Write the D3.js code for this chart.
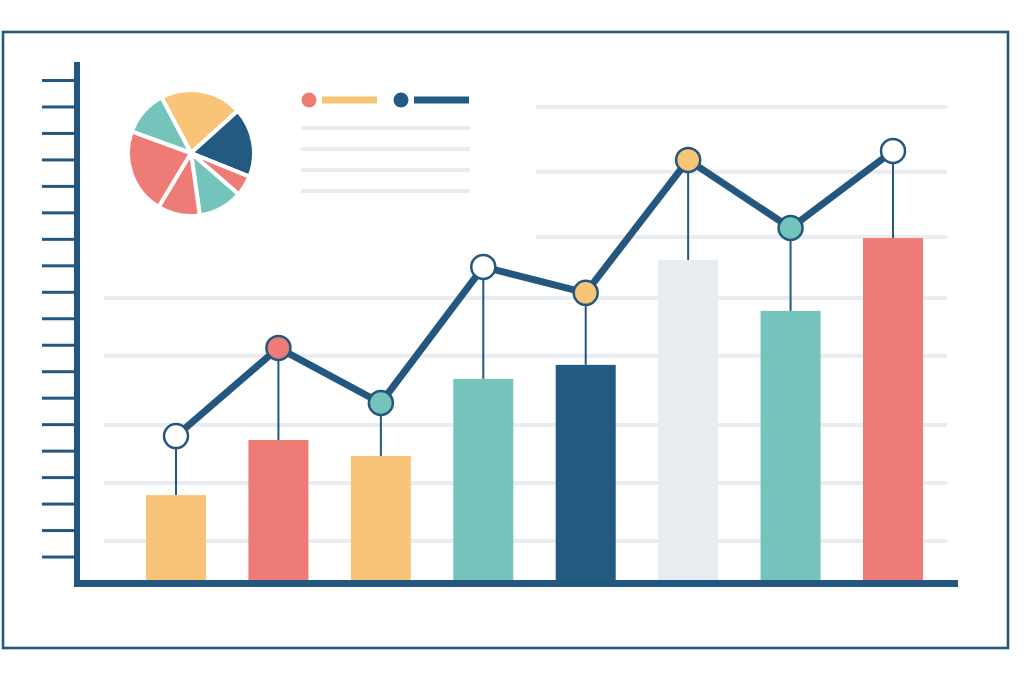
<!DOCTYPE html>
<html><head><meta charset="utf-8">
<script src="https://cdn.jsdelivr.net/npm/d3@7"></script>
<style>html,body{margin:0;padding:0;background:#fff;}svg{display:block;}</style>
</head><body>
<script>
// ---- data ----
const categories = ["A","B","C","D","E","F","G","H"];
const barValues = [3.32, 5.40, 4.80, 7.71, 8.24, 12.20, 10.28, 13.03];
const barColors = ["#F8C477","#EE7B75","#F8C477","#74C4BB","#225A82","#E8ECF0","#74C4BB","#EE7B75"];
const lineValues = [5.55, 8.88, 6.80, 11.94, 10.96, 15.98, 13.41, 16.32];
const markerColors = ["#FFFFFF","#EE7B75","#74C4BB","#FFFFFF","#F8C477","#F8C477","#74C4BB","#FFFFFF"];
const yTicks = [1,2,3,4,5,6,7,8,9,10,11,12,13,14,15,16,17,18,19];
const gridShort = [17.98, 15.53, 13.07];
const gridLong = [10.77, 8.58, 5.97, 3.78, 1.59];
const pieValues = [76, 64, 19, 41, 39, 79, 42];
const pieColors = ["#F8C477","#225A82","#EE7B75","#74C4BB","#EE7B75","#EE7B75","#74C4BB"];
const legendColors = [["#EE7B75","#F8C477"],["#225A82","#225A82"]];
const legendLines = [0,1,2,3];

const NAVY = "#235780", GRID = "#E9EDF1";
const W = 1024, H = 683;
const svg = d3.select("body").append("svg").attr("width", W).attr("height", H);

// frame
svg.append("rect").attr("x",3).attr("y",32).attr("width",1005).attr("height",616)
  .attr("fill","none").attr("stroke",NAVY).attr("stroke-width",2.6);

const y = d3.scaleLinear().domain([0,19]).range([583,80]);
const x = d3.scalePoint().domain(categories).range([176, 893]);
const barW = 60;

// gridlines
svg.append("g").selectAll("line").data(gridShort).join("line")
  .attr("x1",536).attr("x2",947).attr("y1",d=>y(d)).attr("y2",d=>y(d))
  .attr("stroke",GRID).attr("stroke-width",4);
svg.append("g").selectAll("line").data(gridLong).join("line")
  .attr("x1",104).attr("x2",947).attr("y1",d=>y(d)).attr("y2",d=>y(d))
  .attr("stroke",GRID).attr("stroke-width",4);

// y axis ticks
const yAxis = d3.axisLeft(y).tickValues(yTicks).tickSize(32).tickFormat("");
const ga = svg.append("g").attr("transform","translate(74,0)").call(yAxis);
ga.select(".domain").remove();
ga.selectAll(".tick line").attr("stroke",NAVY).attr("stroke-width",3);

// bars
svg.append("g").selectAll("rect").data(barValues).join("rect")
  .attr("x",(d,i)=>x(categories[i])-barW/2).attr("width",barW)
  .attr("y",d=>y(d)).attr("height",d=>y(0)-y(d))
  .attr("fill",(d,i)=>barColors[i]);

// axes lines
svg.append("line").attr("x1",77).attr("x2",77).attr("y1",62).attr("y2",587)
  .attr("stroke",NAVY).attr("stroke-width",6);
svg.append("line").attr("x1",74).attr("x2",958).attr("y1",583.5).attr("y2",583.5)
  .attr("stroke",NAVY).attr("stroke-width",7);

// stems
svg.append("g").selectAll("line").data(lineValues).join("line")
  .attr("x1",(d,i)=>x(categories[i])).attr("x2",(d,i)=>x(categories[i]))
  .attr("y1",d=>y(d)).attr("y2",(d,i)=>y(barValues[i]))
  .attr("stroke",NAVY).attr("stroke-width",2);

// line
const line = d3.line().x((d,i)=>x(categories[i])).y(d=>y(d));
svg.append("path").datum(lineValues).attr("d",line)
  .attr("fill","none").attr("stroke",NAVY).attr("stroke-width",7).attr("stroke-linejoin","miter");

// markers
svg.append("g").selectAll("circle").data(lineValues).join("circle")
  .attr("cx",(d,i)=>x(categories[i])).attr("cy",d=>y(d)).attr("r",12)
  .attr("fill",(d,i)=>markerColors[i]).attr("stroke",NAVY).attr("stroke-width",2.5);

// pie
const pie = d3.pie().sort(null).value(d=>d).startAngle(-28*Math.PI/180).endAngle((360-28)*Math.PI/180);
const arc = d3.arc().innerRadius(0).outerRadius(63);
svg.append("g").attr("transform","translate(191,153)")
  .selectAll("path").data(pie(pieValues)).join("path")
  .attr("d",arc).attr("fill",(d,i)=>pieColors[i])
  .attr("stroke","#fff").attr("stroke-width",4).attr("stroke-linejoin","round");

// legend
const lg = svg.append("g");
legendColors.forEach((c,i)=>{
  const x0 = 309 + i*92;
  lg.append("circle").attr("cx",x0).attr("cy",100).attr("r",7.5).attr("fill",c[0]);
  lg.append("line").attr("x1",x0+13).attr("x2",x0+68).attr("y1",100).attr("y2",100)
    .attr("stroke",c[1]).attr("stroke-width",7);
});
lg.selectAll("line.g").data(legendLines).join("line").attr("class","g")
  .attr("x1",301).attr("x2",470).attr("y1",d=>128+d*21).attr("y2",d=>128+d*21)
  .attr("stroke",GRID).attr("stroke-width",4);
</script>
</body></html>
